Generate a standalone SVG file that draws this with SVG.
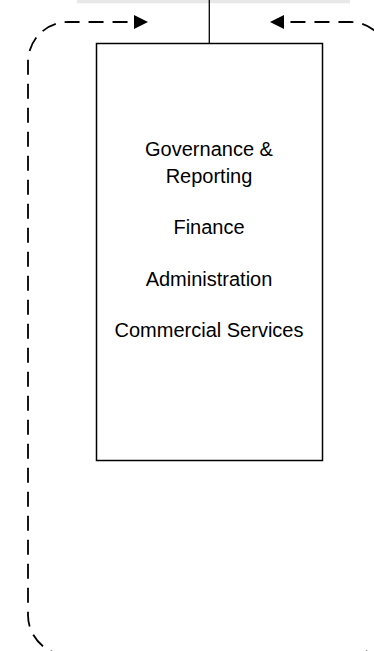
<svg xmlns="http://www.w3.org/2000/svg" width="374" height="651" viewBox="0 0 374 651">
<style>
.box{fill:#fff;stroke:#000;stroke-width:1.5}
.band{fill:#e8e8e8}
.dash{fill:none;stroke:#000;stroke-width:1.8;stroke-dasharray:15 9}
.solid{fill:none;stroke:#000;stroke-width:1.3}
.lbl{font-family:"Liberation Sans",Arial,sans-serif;font-size:20px;fill:#000;text-anchor:middle}
</style>
<defs>
<marker id="ah" markerUnits="userSpaceOnUse" markerWidth="16" markerHeight="16" refX="2" refY="7" orient="auto">
<path d="M0,0 L14,7 L0,14 z" fill="#000"/>
</marker>
</defs>
<rect id="top-band" class="band" x="77" y="0" width="273" height="3.3"/>
<g id="connectors">
<path class="solid" d="M209.3,0 V43.5"/>
<path class="dash" d="M209,655 H68 A40,40 0 0 1 28,615 V62 A40,40 0 0 1 68,22 H136" marker-end="url(#ah)"/>
<path class="dash" d="M209,655 H350 A40,40 0 0 0 390,615 V62 A40,40 0 0 0 350,22 H282" marker-end="url(#ah)"/>
</g>
<g id="functions">
<rect class="box" x="96.5" y="43.5" width="226" height="417"/>
<text class="lbl" x="209" y="156">Governance &amp;</text>
<text class="lbl" x="209" y="182.5">Reporting</text>
<text class="lbl" x="209" y="234">Finance</text>
<text class="lbl" x="209" y="286">Administration</text>
<text class="lbl" x="209" y="337">Commercial Services</text>
</g>
</svg>
